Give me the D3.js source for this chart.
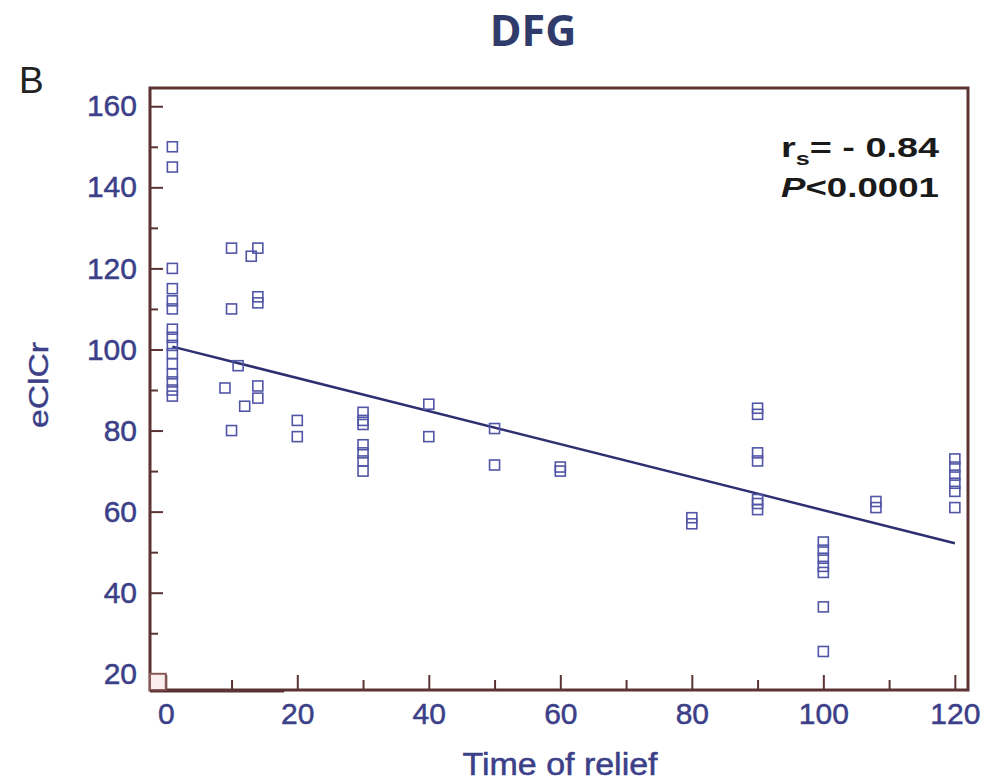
<!DOCTYPE html>
<html>
<head>
<meta charset="utf-8">
<script src="https://cdn.jsdelivr.net/npm/d3@7"></script>
<style>
  html, body { margin: 0; padding: 0; background: #ffffff; }
  svg { display: block; }
</style>
</head>
<body>
<svg id="chart" width="984" height="782"></svg>
<script>
// ---- Data ----
const timeOfRelief = [
  1,1,1,1,1,1,1,1,1,1,1,1,1,1,1,
  9,10,10,10,11,12,13,14,14,14,14,14,
  20,20,
  30,30,30,30,30,30,30,
  40,40,
  50,50,
  60,60,
  80,80,
  90,90,90,90,90,90,90,
  100,100,100,100,100,100,100,
  108,108,
  120,120,120,120,120,120
];
const eClCr = [
  150,145,120,115,112,110,105,103,101,99,96.5,94,92,90,88.5,
  90.5,125,110,80,96,86,123,125,113,111.5,91,88,
  82.5,78.5,
  84.5,82.5,81.5,76.5,74.5,72.5,70,
  86.5,78.5,
  80.5,71.5,
  71,70,
  58.5,57,
  85.5,84,74.5,72.5,63,62,60.5,
  52.5,50.5,48.5,46.5,45,36.5,25.5,
  62.5,61,
  73,71,69,67,65,61
];
const fitX = [1, 120];
const fitY = [100.7, 52.2];
const xTicks = [0, 20, 40, 60, 80, 100, 120];
const yTicks = [20, 40, 60, 80, 100, 120, 140, 160];
const xMinorTicks = [10, 30, 50, 70, 90, 110];
const yMinorTicks = [30, 50, 70, 90, 110, 130, 150];

const titleText = "DFG";
const panelLabel = "B";
const xLabel = "Time of relief";
const yLabel = "eClCr";

(function () {
// ---- Layout ----
const svg = d3.select("#chart");
const pl = 150, pr = 968, pt = 88, pb = 690;
const x = d3.scaleLinear().domain([-2.4, 122]).range([pl, pr]);
const y = d3.scaleLinear().domain([16, 164.5]).range([pb, pt]);

const frameColor = "#5b3333";
const tickTextColor = "#3b4088";
const markerColor = "#5156a6";
const lineColor = "#2c2f70";

// Title
svg.append("text")
  .attr("x", 533).attr("y", 46)
  .attr("text-anchor", "middle")
  .attr("font-family", "'Open Sans', 'Noto Sans', sans-serif")
  .attr("font-weight", 700)
  .attr("font-size", 43)
  .attr("fill", "#2f3c6b")
  .text(titleText);

// Panel label
svg.append("text")
  .attr("x", 19).attr("y", 93)
  .attr("font-family", "'Liberation Sans', Arial, sans-serif")
  .attr("font-size", 37)
  .attr("fill", "#222")
  .text(panelLabel);

// Plot area background
svg.append("rect")
  .attr("x", pl).attr("y", pt)
  .attr("width", pr - pl).attr("height", pb - pt)
  .attr("fill", "#ffffff");

// Axes (ticks inward)
const xAxisMajor = d3.axisBottom(x).tickValues(xTicks).tickSizeInner(-15).tickSizeOuter(0).tickPadding(13);
const xAxisMinor = d3.axisBottom(x).tickValues(xMinorTicks).tickSizeInner(-10).tickSizeOuter(0).tickFormat("");
const yAxisMajor = d3.axisLeft(y).tickValues(yTicks).tickSizeInner(-13).tickSizeOuter(0).tickPadding(13);
const yAxisMinor = d3.axisLeft(y).tickValues(yMinorTicks).tickSizeInner(-8).tickSizeOuter(0).tickFormat("");

function styleAxis(g) {
  g.select(".domain").remove();
  g.selectAll(".tick line").attr("stroke", frameColor).attr("stroke-width", 2);
  g.selectAll(".tick text")
    .attr("fill", tickTextColor)
    .attr("stroke", tickTextColor)
    .attr("stroke-width", 0.5)
    .attr("font-family", "'Liberation Sans', Arial, sans-serif")
    .attr("font-size", 30);
}

svg.append("g").attr("transform", `translate(0,${pb})`).call(xAxisMajor).call(styleAxis);
svg.append("g").attr("transform", `translate(0,${pb})`).call(xAxisMinor).call(styleAxis);
svg.append("g").attr("transform", `translate(${pl},0)`).call(yAxisMajor).call(styleAxis);
svg.append("g").attr("transform", `translate(${pl},0)`).call(yAxisMinor).call(styleAxis);

// Frame
svg.append("rect")
  .attr("x", pl).attr("y", pt)
  .attr("width", pr - pl).attr("height", pb - pt)
  .attr("fill", "none")
  .attr("stroke", frameColor)
  .attr("stroke-width", 3);

// Small corner artifact at bottom-left
svg.append("rect")
  .attr("x", pl).attr("y", y(20))
  .attr("width", x(0) - pl).attr("height", pb - y(20))
  .attr("fill", "#fbeeee")
  .attr("stroke", "#8a5a5a")
  .attr("stroke-width", 2);
svg.append("line")
  .attr("x1", pl).attr("x2", x(18))
  .attr("y1", pb + 1.5).attr("y2", pb + 1.5)
  .attr("stroke", frameColor).attr("stroke-width", 2);

// Regression line
svg.append("line")
  .attr("x1", x(fitX[0])).attr("y1", y(fitY[0]))
  .attr("x2", x(fitX[1])).attr("y2", y(fitY[1]))
  .attr("stroke", lineColor)
  .attr("stroke-width", 2.5);

// Points
const pts = timeOfRelief.map((t, i) => ({ t, v: eClCr[i] }));
const s = 10;
svg.append("g").selectAll("rect")
  .data(pts).join("rect")
  .attr("x", d => x(d.t) - s / 2)
  .attr("y", d => y(d.v) - s / 2)
  .attr("width", s).attr("height", s)
  .attr("fill", "none")
  .attr("stroke", markerColor)
  .attr("stroke-width", 1.6);

// Axis labels
svg.append("text")
  .attr("x", 560).attr("y", 775)
  .attr("text-anchor", "middle")
  .attr("font-family", "'Liberation Sans', Arial, sans-serif")
  .attr("font-size", 31)
  .attr("textLength", 195)
  .attr("lengthAdjust", "spacingAndGlyphs")
  .attr("fill", tickTextColor)
  .attr("stroke", tickTextColor)
  .attr("stroke-width", 0.5)
  .text(xLabel);

svg.append("text")
  .attr("transform", `translate(48,385) rotate(-90)`)
  .attr("text-anchor", "middle")
  .attr("font-family", "'Liberation Sans', Arial, sans-serif")
  .attr("font-size", 28)
  .attr("textLength", 86)
  .attr("lengthAdjust", "spacingAndGlyphs")
  .attr("fill", tickTextColor)
  .attr("stroke", tickTextColor)
  .attr("stroke-width", 0.4)
  .text(yLabel);

// Annotation
const ann = svg.append("text")
  .attr("x", 781).attr("y", 157)
  .attr("font-family", "'Liberation Sans', Arial, sans-serif")
  .attr("font-weight", 700)
  .attr("font-size", 27)
  .attr("textLength", 158)
  .attr("lengthAdjust", "spacingAndGlyphs")
  .attr("fill", "#1a1a1a");
ann.append("tspan").text("r");
ann.append("tspan").attr("font-size", 18).attr("dy", 8).text("s");
ann.append("tspan").attr("dy", -8).text("= - 0.84");

const ann2 = svg.append("text")
  .attr("x", 781).attr("y", 197)
  .attr("font-family", "'Liberation Sans', Arial, sans-serif")
  .attr("font-weight", 700)
  .attr("font-size", 27)
  .attr("textLength", 158)
  .attr("lengthAdjust", "spacingAndGlyphs")
  .attr("fill", "#1a1a1a");
ann2.append("tspan").attr("font-style", "italic").text("P");
ann2.append("tspan").text("<0.0001");
})();
</script>
</body>
</html>
